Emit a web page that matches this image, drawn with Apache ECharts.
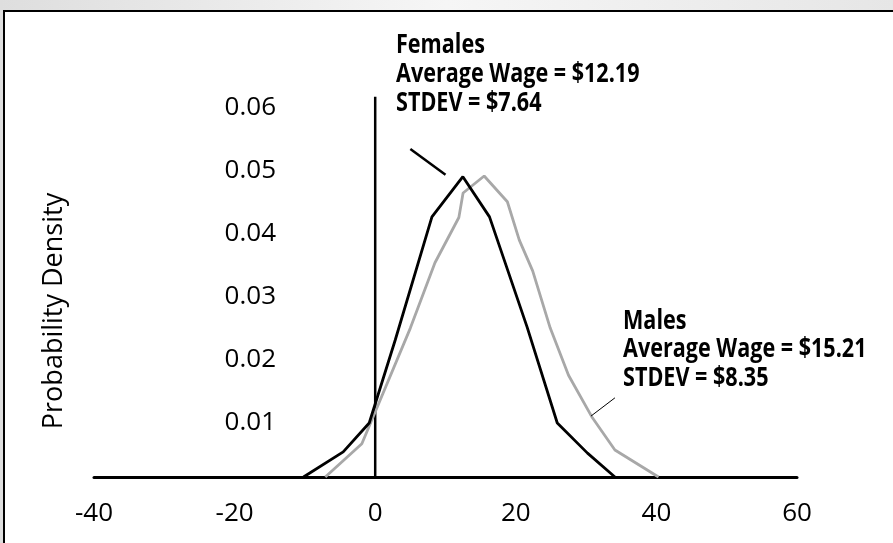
<!DOCTYPE html>
<html>
<head>
<meta charset="utf-8">
<script src="https://cdn.jsdelivr.net/npm/echarts@6/dist/echarts.min.js"></script>
<style>
html, body { margin: 0; padding: 0; background: #fff; }
#chart { width: 893px; height: 543px; }
</style>
</head>
<body>
<div id="chart"></div>
<script>
// ---- data ----
const femaleX = [-10.2, -4.55, -0.85, 2.85, 8.07, 12.47, 16.26, 21.6, 25.9, 30.2, 34.1];
const femaleY = [0, 0.0040, 0.0086, 0.0218, 0.0414, 0.0478, 0.0414, 0.0239, 0.0086, 0.0038, 0];
const maleX = [-7.1, -1.9, 5.0, 8.5, 11.9, 12.5, 15.5, 18.8, 20.5, 22.4, 24.9, 27.5, 30.8, 34.1, 40.3];
const maleY = [0, 0.0053, 0.0237, 0.0341, 0.0413, 0.0452, 0.0479, 0.0438, 0.0377, 0.0328, 0.0237, 0.0162, 0.0096, 0.0043, 0];
const zeroLineX = [0, 0];
const zeroLineY = [0, 0.0605];
const femaleLeaderX = [5.0, 10.0];
const femaleLeaderY = [0.0522, 0.0481];
const maleLeaderX = [30.7, 34.1];
const maleLeaderY = [0.0097, 0.0126];
const femaleLabel = ['Females', 'Average Wage = $12.19', 'STDEV = $7.64'];
const maleLabel = ['Males', 'Average Wage = $15.21', 'STDEV = $8.35'];
const yTitle = 'Probability Density';

function pairs(xs, ys) { return xs.map((x, i) => [x, ys[i]]); }

const chart = echarts.init(document.getElementById('chart'), null, { renderer: 'canvas' });
const annStyle = { fontFamily: "'Open Sans', sans-serif", fontWeight: 'bold', fontSize: 26, lineHeight: 29, fill: '#000', textAlign: 'left', textVerticalAlign: 'top' };

chart.setOption({
  animation: false,
  backgroundColor: '#ffffff',
  grid: { left: 94, right: 96, top: 100, bottom: 66, containLabel: false },
  xAxis: {
    type: 'value', min: -40, max: 60, interval: 20,
    axisLine: { show: true, onZero: false, lineStyle: { color: '#000', width: 3 } },
    axisTick: { show: false },
    splitLine: { show: false },
    axisLabel: { color: '#000', fontSize: 26, fontFamily: 'Open Sans', margin: 24 }
  },
  yAxis: {
    type: 'value', min: 0, max: 0.06, interval: 0.01,
    offset: -186,
    axisLine: { show: false },
    axisTick: { show: false },
    splitLine: { show: false },
    axisLabel: {
      color: '#000', fontSize: 26, fontFamily: 'Open Sans', margin: 4,
      verticalAlign: 'top', lineHeight: 16,
      formatter: v => (v === 0 ? '' : v.toFixed(2))
    }
  },
  graphic: [
    { type: 'rect', z: -10, shape: { x: 0, y: 0, width: 893, height: 543 },
      style: { fill: new echarts.graphic.LinearGradient(0, 0, 1, 0, [
        { offset: 0, color: '#dedede' }, { offset: 0.5, color: '#f6f6f6' }, { offset: 1, color: '#e6e6e6' }]) } },
    { type: 'rect', z: -9, shape: { x: 4, y: 11, width: 1000, height: 700 },
      style: { fill: '#ffffff', stroke: '#000', lineWidth: 2 } },
    { type: 'text', z: 100, x: 54, y: 311, rotation: Math.PI / 2,
      style: { text: yTitle, font: "27px 'Open Sans'", fill: '#000', textAlign: 'center', textVerticalAlign: 'middle' } },
    { type: 'text', z: 100, x: 396, y: 31, scaleX: 0.83,
      style: Object.assign({ text: femaleLabel.join('\n') }, annStyle) },
    { type: 'text', z: 100, x: 623, y: 307, scaleX: 0.83,
      style: Object.assign({ text: maleLabel.join('\n') }, annStyle, { lineHeight: 28.5 }) }
  ],
  series: [
    { name: 'zero', type: 'line', data: pairs(zeroLineX, zeroLineY), symbol: 'none', clip: false,
      lineStyle: { color: '#000', width: 2.5 }, z: 3 },
    { name: 'Males', type: 'line', data: pairs(maleX, maleY), symbol: 'none',
      lineStyle: { color: '#a8a8a8', width: 2.8 }, z: 4 },
    { name: 'Females', type: 'line', data: pairs(femaleX, femaleY), symbol: 'none',
      lineStyle: { color: '#000', width: 2.8 }, z: 5 },
    { name: 'femaleLeader', type: 'line', data: pairs(femaleLeaderX, femaleLeaderY), symbol: 'none',
      lineStyle: { color: '#000', width: 2.5 }, z: 5 },
    { name: 'maleLeader', type: 'line', data: pairs(maleLeaderX, maleLeaderY), symbol: 'none',
      lineStyle: { color: '#000', width: 1 }, z: 5 }
  ]
});
</script>
</body>
</html>
